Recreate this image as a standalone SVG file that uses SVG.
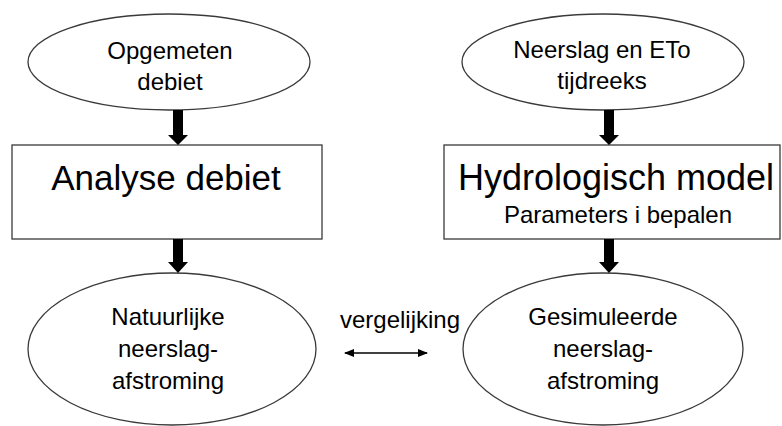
<svg xmlns="http://www.w3.org/2000/svg" width="782" height="426" viewBox="0 0 782 426">
<defs>
<style>
.shape{fill:#fff;stroke:#3a3a3a;stroke-width:1.3}
.t{font-family:"Liberation Sans",Arial,sans-serif;fill:#000;text-anchor:middle}
.s{font-size:24px}
.b{font-size:36px}
.arr{fill:#000}
</style>
<marker id="ah" markerWidth="10" markerHeight="8" refX="9" refY="4" orient="auto-start-reverse" markerUnits="userSpaceOnUse">
<path d="M0,0 L10,4 L0,8 Z" fill="#000"/>
</marker>
</defs>
<rect width="782" height="426" fill="#fff"/>
<g id="n-opgemeten">
<ellipse class="shape" cx="169" cy="62" rx="141" ry="48"/>
<text class="t s" x="170" y="59">Opgemeten</text>
<text class="t s" x="170" y="90">debiet</text>
</g>
<g id="n-neerslag">
<ellipse class="shape" cx="603" cy="62" rx="141" ry="48"/>
<text class="t s" x="602" y="58">Neerslag en ETo</text>
<text class="t s" x="602" y="89">tijdreeks</text>
</g>
<g id="n-analyse">
<rect class="shape" x="12" y="145" width="310" height="94"/>
<text class="t" style="font-size:35px" x="166" y="190">Analyse debiet</text>
</g>
<g id="n-model">
<rect class="shape" x="444" y="145" width="336" height="94"/>
<text class="t b" x="616" y="190">Hydrologisch model</text>
<text class="t s" x="618" y="223">Parameters i bepalen</text>
</g>
<g id="n-natuurlijk">
<ellipse class="shape" cx="172" cy="349" rx="144" ry="76"/>
<text class="t s" x="168" y="325">Natuurlijke</text>
<text class="t s" x="168" y="357">neerslag-</text>
<text class="t s" x="168" y="389">afstroming</text>
</g>
<g id="n-gesimuleerd">
<ellipse class="shape" cx="603" cy="349" rx="140" ry="76"/>
<text class="t s" x="603" y="325">Gesimuleerde</text>
<text class="t s" x="603" y="357">neerslag-</text>
<text class="t s" x="603" y="389">afstroming</text>
</g>
<g id="connectors">
<path class="arr" d="M173,110 H183 V135 H188 L178,145 L168,135 H173 Z"/>
<path class="arr" d="M604,110 H614 V135 H619 L609,145 L599,135 H604 Z"/>
<path class="arr" d="M173,239 H183 V262 H188 L178,273 L168,262 H173 Z"/>
<path class="arr" d="M604,239 H614 V262 H619 L609,273 L599,262 H604 Z"/>
<line x1="345" y1="353" x2="427" y2="353" stroke="#000" stroke-width="1.6" marker-start="url(#ah)" marker-end="url(#ah)"/>
<text class="t s" x="400" y="328">vergelijking</text>
</g>
</svg>
